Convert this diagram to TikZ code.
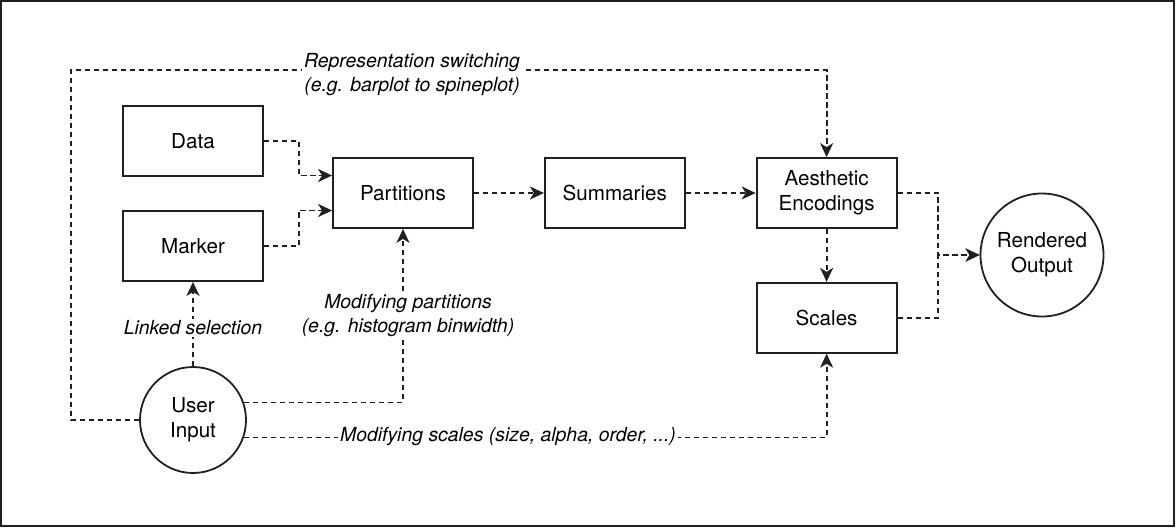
\documentclass[tikz,border=0pt]{standalone}
\usepackage{fontspec}
\setmainfont{TeX Gyre Heros}
\usetikzlibrary{arrows.meta, positioning}
\definecolor{DiagBlack}{cmyk}{0,0,0,1}

\begin{document}
\begin{tikzpicture}[x = 0.5pt, y = -0.5pt]%
    %
    \def\boxwidth{70pt}%
    \def\boxheight{35pt}%
    \def\boxgap{35pt}%
    %
    \tikzstyle{stage} = [draw = DiagBlack, line width = 0.9pt, minimum width = \boxwidth, minimum height = \boxheight, inner sep = 0pt, align = center, font = \fontsize{10.3}{12.5}\selectfont]%
    \tikzstyle{terminal} = [stage, circle, minimum size = 61.5pt]%
    \tikzstyle{flow} = [-{Stealth[length = 7pt, width = 6.5pt, inset = 2pt]}, line width = 0.9pt, draw = DiagBlack, dash pattern = on 2.75pt off 1.75pt]%
    \tikzstyle{note} = [fill = white, inner sep = 1pt, align = center, font = \fontsize{9.7}{12}\selectfont\itshape]%
    \tikzstyle{frame} = [draw = DiagBlack, line width = 0.9pt]%
    %
    % Canvas
    \useasboundingbox (0, 0) rectangle (1176, 529);%
    \draw [frame] (1, 1) rectangle (1174, 526);%
    %
    % Pipeline
    \node (part) [stage] at (403, 193) {Partitions};%
    \node (summ) [stage, right = \boxgap of part] {Summaries};%
    \node (aes) [stage, right = \boxgap of summ] {Aesthetic\\Encodings};%
    \node (scales) [stage, below = 26.5pt of aes] {Scales};%
    \node (out) [terminal] at (1042, 255) {Rendered\\Output};%
    %
    % Inputs
    \node (data) [stage] at (193, 141) {Data};%
    \node (marker) [stage] at (193, 246) {Marker};%
    \node (ui) [terminal, minimum size = 53pt] at (193, 420) {User\\Input};%
    %
    \coordinate [above = 8.75pt of part.west] (partin1);%
    \coordinate [below = 8.75pt of part.west] (partin2);%
    \coordinate (merge) at (938, 255);%
    \coordinate (switchcorner) at (71, 70);%
    %
    % Main flow
    \draw [flow] (data.east) -- ++(17.5pt, 0) |- (partin1);%
    \draw [flow] (marker.east) -- ++(17.5pt, 0) |- (partin2);%
    \draw [flow] (part) -- (summ);%
    \draw [flow] (summ) -- (aes);%
    \draw [flow] (aes) -- (scales);%
    \draw [flow] (aes.east) -| (merge) -- (out.west);%
    \draw [flow] (scales.east) -| (merge) -- (out.west);%
    %
    % Interaction
    \draw [flow] (ui.north) -- (marker.south) node [note, midway, yshift = -2pt] (linklabel) {Linked selection};%
    \draw [flow] (ui.19) -| (part.south) node [note, pos = 0.75, xshift = 2.5pt] (partlabel) {Modifying partitions\\(e.g. histogram binwidth)};%
    \draw [flow] (ui.-19) -| (scales.south);%
    \draw [flow] (ui.west) -| (switchcorner) -| (aes.north);%
    \node (scalelabel) [note] at (508, 437) {Modifying scales (size, alpha, order, ...)};%
    \node (switchlabel) [note] at (412, 75) {Representation switching\\(e.g. barplot to spineplot)};%
    %
\end{tikzpicture}
\end{document}
